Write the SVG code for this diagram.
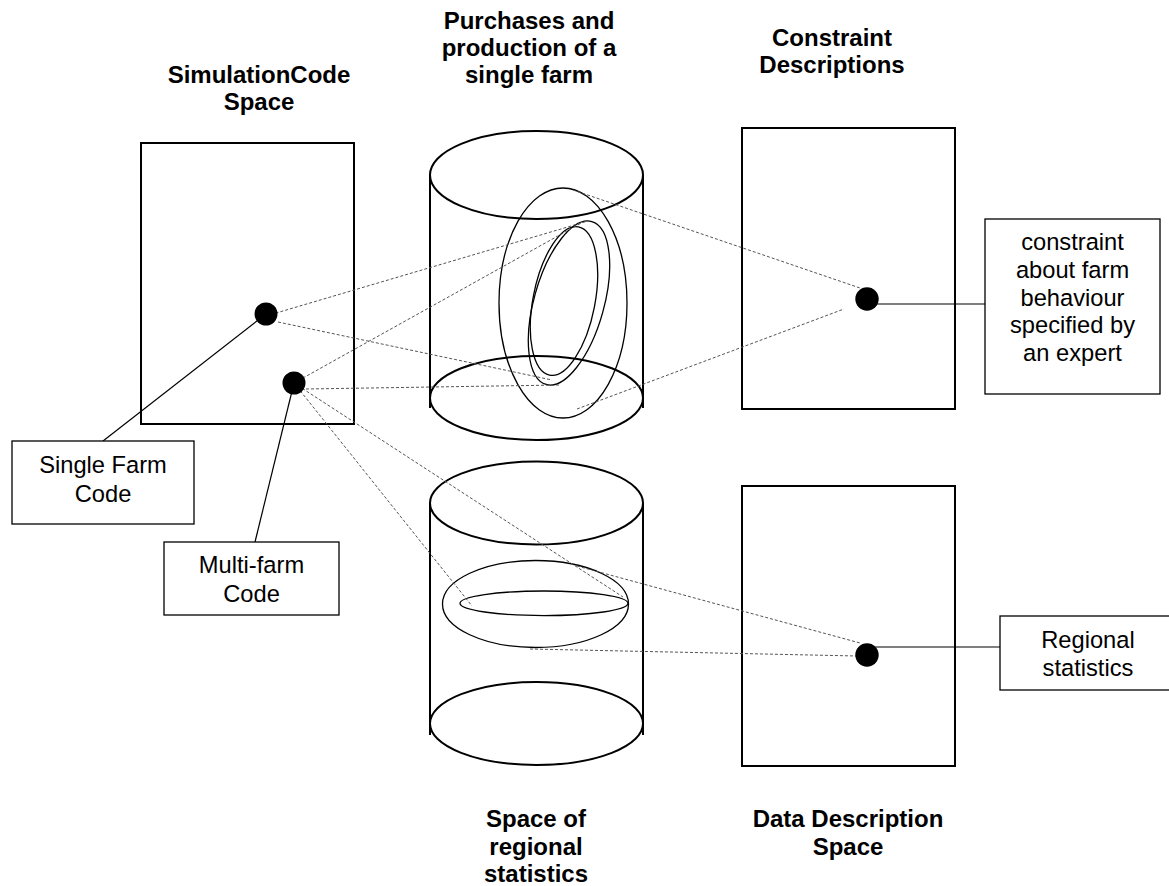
<svg xmlns="http://www.w3.org/2000/svg" width="1169" height="886" viewBox="0 0 1169 886">
<style>
.t{font-family:"Liberation Sans",Arial,sans-serif;font-size:23.7px;fill:#000;text-anchor:middle}
.b{font-weight:bold;font-size:24px}
.space{fill:#fff;stroke:#000;stroke-width:2}
.box{fill:#fff;stroke:#000;stroke-width:1.3}
.cyl{fill:none;stroke:#000;stroke-width:2}
.in{fill:none;stroke:#000;stroke-width:1.3}
.dash{stroke:#555;stroke-width:1;stroke-dasharray:3,2;fill:none}
.solid{stroke:#000;stroke-width:1.2;fill:none}
.dot{fill:#000}
</style>
<rect width="1169" height="886" fill="#fff"/>
<g id="sim-space">
<rect class="space" x="141" y="143" width="213" height="281"/>
<text class="t b" x="259" y="83">SimulationCode</text>
<text class="t b" x="259" y="110">Space</text>
</g>
<g id="farm-cylinder">
<path class="cyl" d="M430,175 L430,408 M643,175 L643,408"/>
<ellipse class="cyl" cx="536.5" cy="175" rx="106.5" ry="44"/>
<ellipse class="cyl" cx="536.5" cy="398" rx="106.5" ry="42"/>
<ellipse class="in" cx="563" cy="303" rx="64" ry="115"/>
<ellipse class="in" cx="569" cy="303" rx="35" ry="84.6" transform="rotate(15.6 569 303)"/>
<ellipse class="in" cx="564" cy="301" rx="31" ry="75.5" transform="rotate(11 564 301)"/>
<text class="t b" x="529" y="29">Purchases and</text>
<text class="t b" x="529" y="56">production of a</text>
<text class="t b" x="529" y="83">single farm</text>
</g>
<g id="regional-cylinder">
<path class="cyl" d="M430,503 L430,735 M643,503 L643,735"/>
<ellipse class="cyl" cx="536.5" cy="503" rx="106.5" ry="41.5"/>
<ellipse class="cyl" cx="536.5" cy="723.5" rx="106.5" ry="41.5"/>
<ellipse class="in" cx="535.5" cy="604" rx="93" ry="43.5"/>
<ellipse class="in" cx="544" cy="603.3" rx="84" ry="12.3"/>
<text class="t b" x="536" y="827">Space of</text>
<text class="t b" x="536" y="855">regional</text>
<text class="t b" x="536" y="882">statistics</text>
</g>
<g id="constraint-space">
<rect class="space" x="742" y="128" width="213" height="281"/>
<text class="t b" x="832" y="46">Constraint</text>
<text class="t b" x="832" y="73">Descriptions</text>
</g>
<g id="data-space">
<rect class="space" x="742" y="486" width="213" height="280"/>
<text class="t b" x="848" y="827">Data Description</text>
<text class="t b" x="848" y="855">Space</text>
</g>
<g id="connectors">
<line class="dash" x1="266" y1="316" x2="588" y2="221"/>
<line class="dash" x1="278" y1="322" x2="552" y2="380"/>
<line class="dash" x1="294" y1="383" x2="583" y2="222"/>
<line class="dash" x1="306" y1="389" x2="560" y2="385"/>
<line class="dash" x1="294" y1="383" x2="623" y2="597"/>
<line class="dash" x1="294" y1="383" x2="472" y2="606"/>
<line class="dash" x1="573" y1="190" x2="860" y2="288"/>
<line class="dash" x1="577" y1="409" x2="844" y2="309"/>
<line class="dash" x1="577" y1="566" x2="860" y2="643"/>
<line class="dash" x1="530" y1="649" x2="857" y2="656"/>
<line class="solid" x1="266" y1="314" x2="103" y2="441"/>
<line class="solid" x1="294" y1="383" x2="255" y2="542"/>
<line class="solid" x1="867" y1="304" x2="985" y2="304"/>
<line class="solid" x1="867" y1="647" x2="1000" y2="647"/>
</g>
<g id="dot-single"><circle class="dot" cx="266" cy="314" r="11.5"/></g>
<g id="dot-multi"><circle class="dot" cx="294" cy="383" r="11.5"/></g>
<g id="dot-constraint"><circle class="dot" cx="867" cy="299" r="11.7"/></g>
<g id="dot-regional"><circle class="dot" cx="867" cy="655" r="11.7"/></g>
<g id="single-farm-code">
<rect class="box" x="12" y="441" width="182" height="83"/>
<text class="t" x="103" y="473">Single Farm</text>
<text class="t" x="103" y="502">Code</text>
</g>
<g id="multi-farm-code">
<rect class="box" x="164" y="542" width="175" height="73"/>
<text class="t" x="251.5" y="573">Multi-farm</text>
<text class="t" x="251.5" y="602">Code</text>
</g>
<g id="constraint-box">
<rect class="box" x="985" y="219" width="175" height="175"/>
<text class="t" x="1072.5" y="250">constraint</text>
<text class="t" x="1072.5" y="278">about farm</text>
<text class="t" x="1072.5" y="305.5">behaviour</text>
<text class="t" x="1072.5" y="333">specified by</text>
<text class="t" x="1072.5" y="360.5">an expert</text>
</g>
<g id="regional-box">
<rect class="box" x="1000" y="616" width="180" height="74"/>
<text class="t" x="1088" y="648">Regional</text>
<text class="t" x="1088" y="676">statistics</text>
</g>
</svg>
